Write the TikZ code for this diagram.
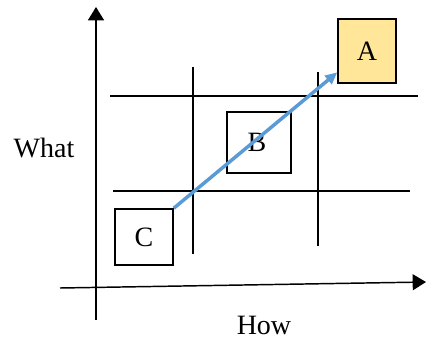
\documentclass[tikz,border=0pt]{standalone}
\usepackage{fontspec}
\setmainfont{Liberation Serif}
\usetikzlibrary{arrows.meta}
\definecolor{boxyellow}{HTML}{FFE699}
\definecolor{arrowblue}{HTML}{5B9BD5}
\tikzset{
  quadbox/.style={draw,line width=1.1pt,inner sep=0pt,font=\fontsize{21}{25}\selectfont},
  gridline/.style={line width=1.1pt},
  axis/.style={line width=1.1pt,-{Triangle[length=10pt,width=12pt]}}
}

\begin{document}
\begin{tikzpicture}[x=0.75pt,y=-0.75pt]
			\useasboundingbox (0,0) rectangle (426,340);
			% axes
			\coordinate (yb) at (96,320); \coordinate (yt) at (96,7);
			\coordinate (xl) at (60,288); \coordinate (xr) at (426,282);
			\draw[axis] (yb) -- (yt);
			\draw[axis] (xl) -- (xr);
			% grid
			\foreach \n/\a/\b in {h1/{110,96}/{418,96},h2/{113,191}/{410,191},v1/{193,67}/{193,254},v2/{318,72}/{318,246}} {
				\coordinate (\n s) at (\a); \coordinate (\n e) at (\b);
				\draw[gridline] (\n s) -- (\n e);}
			% boxes
			\node[quadbox,fill=boxyellow,minimum width=43.5pt,minimum height=48pt] (A) at (367,51) {A};
			\node[quadbox,fill=white,minimum width=48pt,minimum height=45.75pt] (B) at (259,142.5) {};
			\node[font=\fontsize{21}{25}\selectfont] (Blbl) at (257,142) {B};
			\node[quadbox,fill=white,minimum width=43.5pt,minimum height=42pt] (C) at (144,237) {C};
			\draw[arrowblue,line width=2.6pt,-{Triangle[length=9pt,width=8pt]}] (C.north east) -- ([yshift=8.5pt]A.south west);
			% labels
			\node[font=\fontsize{21}{25}\selectfont] (what) at (44,148) {What};
			\node[font=\fontsize{21}{25}\selectfont] (how) at (264,325) {How};
		\end{tikzpicture}
\end{document}
